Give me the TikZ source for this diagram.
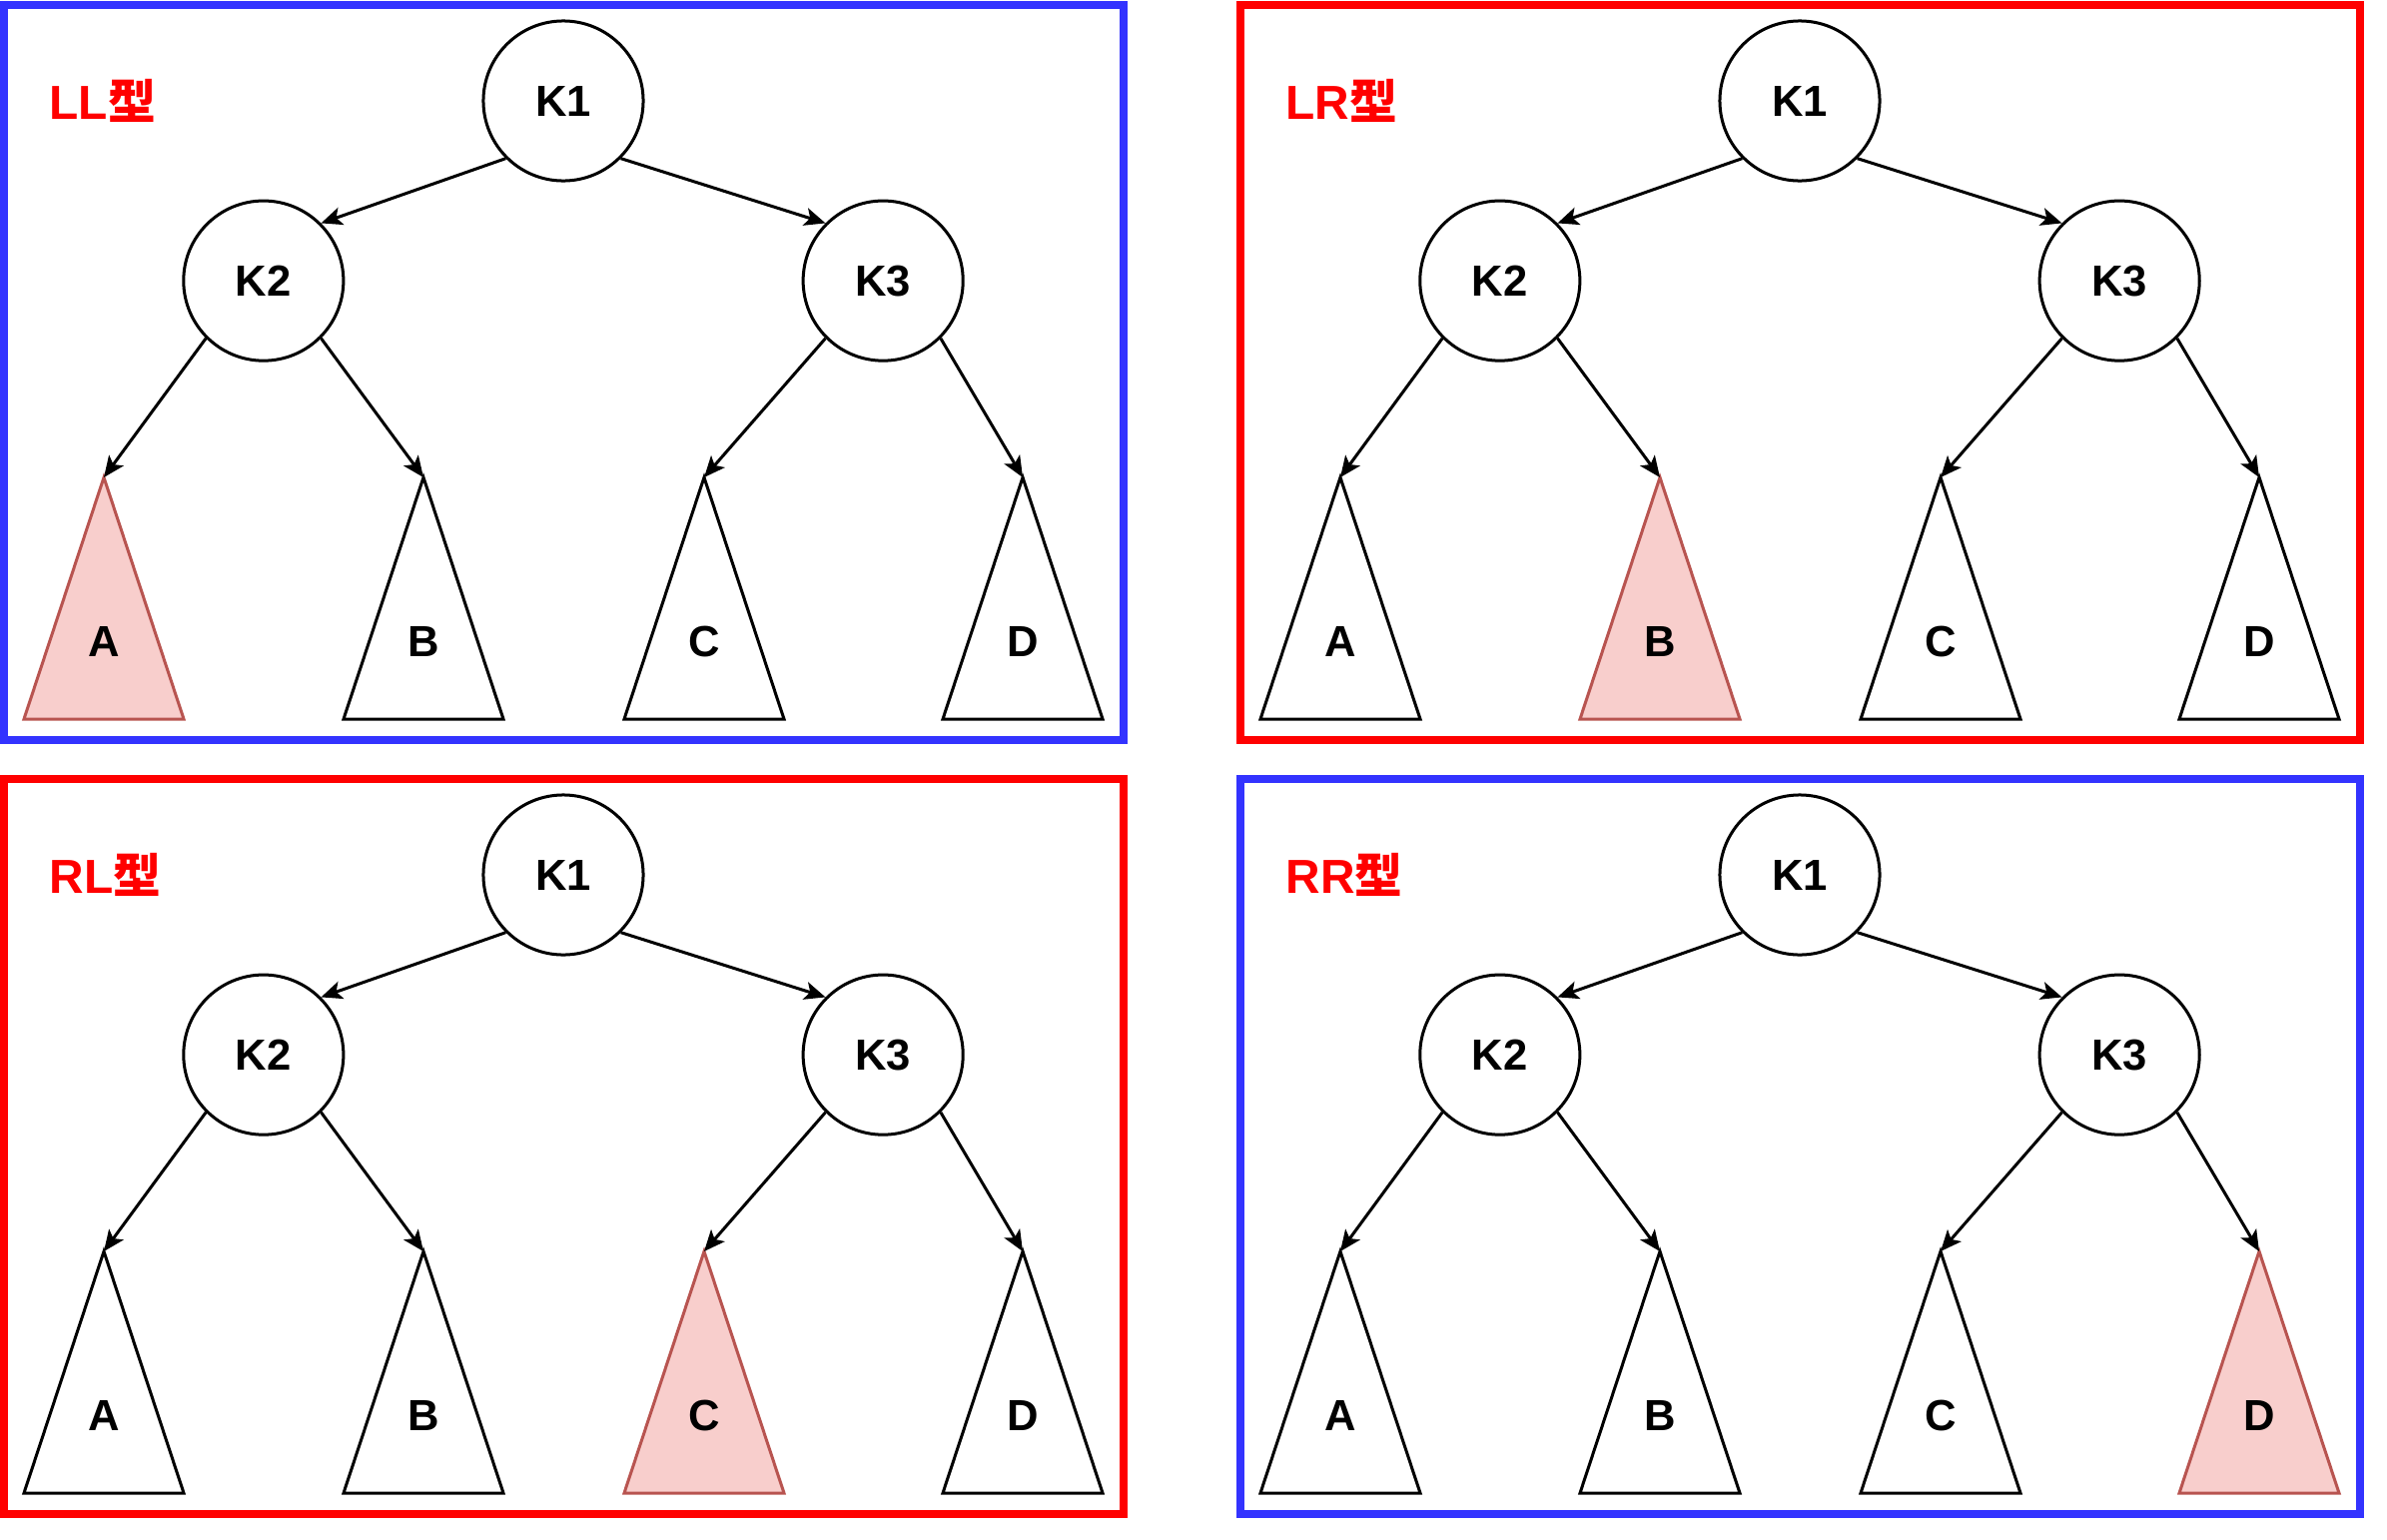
\documentclass[tikz,border=0pt]{standalone}
\usepackage{fontspec}
\setmainfont{Liberation Sans}
\newfontfamily\cjk{Noto Sans CJK SC}
\usetikzlibrary{positioning, arrows.meta}
\definecolor{frameblue}{HTML}{3333FF}
\definecolor{framered}{HTML}{FF0000}
\definecolor{hlfill}{HTML}{F8CECC}
\definecolor{hldraw}{HTML}{B85450}
\tikzset{keynode/.style={circle, draw, line width=0.03cm, fill=white, minimum size=1.6cm, inner sep=0pt, font=\fontsize{12.4}{14}\selectfont\bfseries}}
\tikzset{subtree/.style={draw, line width=0.03cm, fill=white}}
\tikzset{subhl/.style={draw=hldraw, fill=hlfill}}
\tikzset{triA/.style={}, triB/.style={}, triC/.style={}, triD/.style={}}
\tikzset{sublbl/.style={inner sep=0pt, font=\fontsize{12.4}{14}\selectfont\bfseries}}
\tikzset{panel/.style={draw=#1, line width=0.08cm}}
\tikzset{tag/.style={anchor=west, inner sep=0pt, text=framered, font=\fontsize{13.6}{16}\selectfont\bfseries}}
\tikzset{arr/.style={draw, -{Stealth[length=0.21cm, width=0.18cm, inset=0.05cm]}, line width=0.03cm}}

\begin{document}
\begin{tikzpicture}[x=0.01cm, y=-0.01cm]
	\useasboundingbox (0,0) rectangle (2390,1542);
	\foreach \n/\px/\py/\fc/\lab/\hl in {1/4/5/frameblue/LL/A, 2/1242/5/framered/LR/B,
			3/4/780/framered/RL/C, 4/1242/780/frameblue/RR/D}{
		\begin{scope}[shift={(\px,\py)}, tri\hl/.style={subhl}]
			\draw[panel=\fc] (0,0) rectangle (1121,736);
			\node[tag] (tag\n) at (45,96) {\lab{\cjk 型}};
			%
			\node[keynode] (k1\n) at (560,96) {K1};
			\node[keynode, on grid, below left=1.8cm and 3cm of k1\n] (k2\n) {K2};
			\node[keynode, on grid, below right=1.8cm and 3.2cm of k1\n] (k3\n) {K3};
			%
			\foreach \t/\ax in {A/100, B/420, C/701, D/1020}{
				\draw[subtree, tri\t] (\ax,473) coordinate (top\t\n)
					-- (\ax+80,715) -- (\ax-80,715) -- cycle;
				\node[sublbl] (\t\n) at (\ax,637) {\t};
			}
			%
			\draw[arr] (k1\n.south west) -- (k2\n.north east);
			\draw[arr] (k1\n.south east) -- (k3\n.north west);
			\draw[arr] (k2\n.south west) -- (topA\n);
			\draw[arr] (k2\n.south east) -- (topB\n);
			\draw[arr] (k3\n.south west) -- (topC\n);
			\draw[arr] (k3\n.south east) -- (topD\n);
		\end{scope}
	}
\end{tikzpicture}
\end{document}
